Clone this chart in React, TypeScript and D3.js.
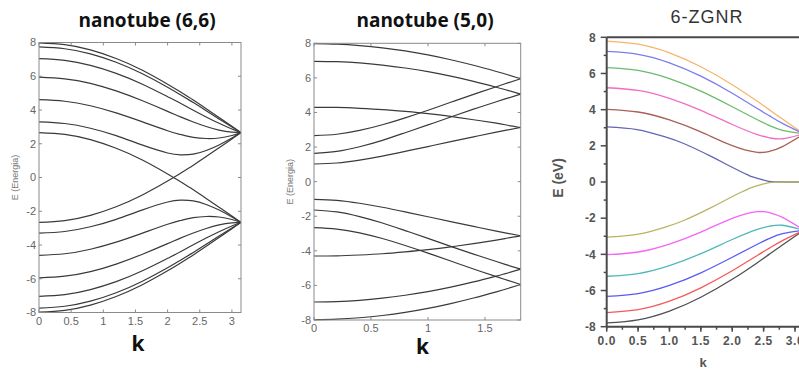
import React from 'react';
import * as d3 from 'd3';

// ---------- Panel 1: armchair nanotube (6,6) ----------
const K_CNT66 = [0, 0.4, 0.8, 1.2, 1.6, 2.0, 2.2, 2.4, 2.6, 2.8, 3.0, 3.1416];
const CNT66_UPPER = [
  [7.98, 7.87, 7.56, 7.05, 6.37, 5.53, 5.07, 4.59, 4.08, 3.56, 3.04, 2.66],
  [7.74, 7.63, 7.33, 6.83, 6.16, 5.35, 4.90, 4.44, 3.96, 3.47, 2.99, 2.66],
  [7.04, 6.94, 6.64, 6.17, 5.54, 4.79, 4.40, 3.99, 3.59, 3.21, 2.87, 2.66],
  [5.95, 5.85, 5.58, 5.13, 4.56, 3.92, 3.59, 3.29, 3.02, 2.81, 2.69, 2.66],
  [4.61, 4.52, 4.25, 3.83, 3.31, 2.77, 2.55, 2.38, 2.31, 2.34, 2.49, 2.66],
  [3.30, 3.20, 2.92, 2.48, 1.93, 1.45, 1.34, 1.38, 1.60, 1.93, 2.34, 2.66],
  [2.66, 2.55, 2.24, 1.73, 1.05, 0.21, -0.25, -0.73, -1.24, -1.76, -2.28, -2.66],
];
const CNT66_LOWER = [
  [-7.98, -7.87, -7.56, -7.05, -6.37, -5.53, -5.07, -4.59, -4.08, -3.56, -3.04, -2.66],
  [-7.74, -7.63, -7.33, -6.83, -6.16, -5.35, -4.90, -4.44, -3.96, -3.47, -2.99, -2.66],
  [-7.04, -6.94, -6.64, -6.17, -5.54, -4.79, -4.40, -3.99, -3.59, -3.21, -2.87, -2.66],
  [-5.95, -5.85, -5.58, -5.13, -4.56, -3.92, -3.59, -3.29, -3.02, -2.81, -2.69, -2.66],
  [-4.61, -4.52, -4.25, -3.83, -3.31, -2.77, -2.55, -2.38, -2.31, -2.34, -2.49, -2.66],
  [-3.30, -3.20, -2.92, -2.48, -1.93, -1.45, -1.34, -1.38, -1.60, -1.93, -2.34, -2.66],
  [-2.66, -2.55, -2.24, -1.73, -1.05, -0.21, 0.25, 0.73, 1.24, 1.76, 2.28, 2.66],
];
const CNT66_XTICKS = [0, 0.5, 1, 1.5, 2, 2.5, 3];

// ---------- Panel 2: zigzag nanotube (5,0) ----------
const K_CNT50 = [0, 0.2, 0.4, 0.6, 0.8, 1.0, 1.2, 1.4, 1.6, 1.7, 1.8138];
const CNT50_UPPER = [
  [7.98, 7.95, 7.87, 7.74, 7.56, 7.33, 7.05, 6.73, 6.37, 6.18, 5.95],
  [6.96, 6.94, 6.87, 6.74, 6.57, 6.36, 6.10, 5.80, 5.46, 5.28, 5.06],
  [4.30, 4.29, 4.24, 4.17, 4.06, 3.93, 3.77, 3.58, 3.38, 3.26, 3.13],
  [1.02, 1.08, 1.25, 1.48, 1.75, 2.03, 2.31, 2.59, 2.86, 2.99, 3.13],
  [1.64, 1.75, 2.02, 2.39, 2.83, 3.28, 3.74, 4.19, 4.62, 4.83, 5.06],
  [2.66, 2.74, 2.96, 3.29, 3.69, 4.13, 4.59, 5.05, 5.49, 5.71, 5.95],
];
const CNT50_LOWER = [
  [-7.98, -7.95, -7.87, -7.74, -7.56, -7.33, -7.05, -6.73, -6.37, -6.18, -5.95],
  [-6.96, -6.94, -6.87, -6.74, -6.57, -6.36, -6.10, -5.80, -5.46, -5.28, -5.06],
  [-4.30, -4.29, -4.24, -4.17, -4.06, -3.93, -3.77, -3.58, -3.38, -3.26, -3.13],
  [-1.02, -1.08, -1.25, -1.48, -1.75, -2.03, -2.31, -2.59, -2.86, -2.99, -3.13],
  [-1.64, -1.75, -2.02, -2.39, -2.83, -3.28, -3.74, -4.19, -4.62, -4.83, -5.06],
  [-2.66, -2.74, -2.96, -3.29, -3.69, -4.13, -4.59, -5.05, -5.49, -5.71, -5.95],
];
const CNT50_XTICKS = [0, 0.5, 1, 1.5];

// ---------- Panel 3: 6-ZGNR ----------
const K_ZGNR = [0, 0.5, 1.0, 1.5, 2.0, 2.4, 2.6, 2.8, 3.1416];
const ZGNR_UPPER = [
  [7.79, 7.62, 7.14, 6.37, 5.38, 4.46, 3.97, 3.48, 2.66],
  [7.22, 7.06, 6.59, 5.85, 4.91, 4.06, 3.64, 3.24, 2.66],
  [6.32, 6.17, 5.72, 5.02, 4.16, 3.44, 3.11, 2.86, 2.66],
  [5.21, 5.06, 4.62, 3.96, 3.18, 2.62, 2.44, 2.39, 2.66],
  [4.02, 3.87, 3.43, 2.77, 2.01, 1.64, 1.70, 1.96, 2.66],
];
const ZGNR_LOWER = [
  [-7.79, -7.62, -7.14, -6.37, -5.38, -4.46, -3.97, -3.48, -2.66],
  [-7.22, -7.06, -6.59, -5.85, -4.91, -4.06, -3.64, -3.24, -2.66],
  [-6.32, -6.17, -5.72, -5.02, -4.16, -3.44, -3.11, -2.86, -2.66],
  [-5.21, -5.06, -4.62, -3.96, -3.18, -2.62, -2.44, -2.39, -2.66],
  [-4.02, -3.87, -3.43, -2.77, -2.01, -1.64, -1.70, -1.96, -2.66],
];
const K_ZGNR_EDGE = [0, 0.484, 0.921, 1.227, 1.655, 1.943, 2.157, 2.256, 2.326, 2.461, 2.586, 2.688, 2.9, 3.1416];
const ZGNR_EDGE_UP = [3.05, 2.90, 2.51, 2.13, 1.43, 0.91, 0.54, 0.38, 0.28, 0.14, 0.04, 0.01, 0, 0];
const ZGNR_EDGE_DOWN = [-3.05, -2.90, -2.51, -2.13, -1.43, -0.91, -0.54, -0.38, -0.28, -0.14, -0.04, -0.01, 0, 0];
const ZGNR_UPPER_COLORS = ['#f7b46e', '#7c7cee', '#6cbb6c', '#f46cc4', '#a86058'];
const ZGNR_LOWER_COLORS = ['#505050', '#f45a5a', '#5a5af4', '#50b8b8', '#f664f6'];
const ZGNR_EDGE_UP_COLOR = '#6464b4';
const ZGNR_EDGE_DOWN_COLOR = '#b8b464';
const ZGNR_XTICKS = [0, 0.5, 1.0, 1.5, 2.0, 2.5, 3.0];

const E_TICKS = [-8, -6, -4, -2, 0, 2, 4, 6, 8];
const E_MINOR = [-7, -5, -3, -1, 1, 3, 5, 7];

type Series = { k: number[]; e: number[]; color: string };

function zip(k: number[], e: number[]): [number, number][] {
  return k.map((v, i) => [v, e[i]]);
}

function MatlabPanel(props: {
  id: string;
  left: number; right: number; top: number; bottom: number;
  kMax: number; xticks: number[]; series: Series[];
  title: string; titleX: number; titleY: number;
  kX: number; kY: number; yLabelX: number;
}) {
  const { id, left, right, top, bottom, kMax, xticks, series } = props;
  const x = d3.scaleLinear().domain([0, kMax]).range([left, right]);
  const y = d3.scaleLinear().domain([-8, 8]).range([bottom, top]);
  const line = d3.line<[number, number]>().x(d => x(d[0])).y(d => y(d[1])).curve(d3.curveNatural);
  const frame = '#8a8a8a';
  const tl = 3;
  return (
    <g>
      <defs>
        <clipPath id={id}>
          <rect x={left} y={top - 1} width={right - left} height={bottom - top + 2} />
        </clipPath>
      </defs>
      <g clipPath={`url(#${id})`}>
        {series.map((s, i) => (
          <path key={i} d={line(zip(s.k, s.e)) || ''} fill="none" stroke={s.color} strokeWidth={1.2} />
        ))}
      </g>
      <rect x={left} y={top} width={right - left} height={bottom - top} fill="none" stroke={frame} strokeWidth={1} />
      {E_TICKS.map(t => (
        <g key={'y' + t}>
          <line x1={left} x2={left + tl} y1={y(t)} y2={y(t)} stroke={frame} />
          <line x1={right} x2={right - tl} y1={y(t)} y2={y(t)} stroke={frame} />
          <text x={left - 3} y={y(t)} dy="0.35em" textAnchor="end" fontSize={11}
            fontFamily="'Liberation Sans', Arial, sans-serif" fill="#666">{t}</text>
        </g>
      ))}
      {xticks.map(t => (
        <g key={'x' + t}>
          <line x1={x(t)} x2={x(t)} y1={bottom} y2={bottom - tl} stroke={frame} />
          <line x1={x(t)} x2={x(t)} y1={top} y2={top + tl} stroke={frame} />
          <text x={x(t)} y={bottom + 12} textAnchor="middle" fontSize={11}
            fontFamily="'Liberation Sans', Arial, sans-serif" fill="#666">{t}</text>
        </g>
      ))}
      <text x={props.titleX} y={props.titleY} textAnchor="middle" fontSize={19} fontWeight="bold"
        fontFamily="'Open Sans', sans-serif" fill="#111">{props.title}</text>
      <text x={props.kX} y={props.kY} textAnchor="middle" fontSize={21} fontWeight="bold"
        fontFamily="'Open Sans', sans-serif" fill="#111">k</text>
      <text transform={`translate(${props.yLabelX},${(top + bottom) / 2}) rotate(-90)`} textAnchor="middle"
        fontSize={9} fontFamily="'Liberation Sans', Arial, sans-serif" fill="#777">E (Energia)</text>
    </g>
  );
}

function ZgnrPanel() {
  const left = 606.7, right = 803.9, top = 37.3, bottom = 326.7;
  const x = d3.scaleLinear().domain([0, 3.1416]).range([left, right]);
  const y = d3.scaleLinear().domain([-8, 8]).range([bottom, top]);
  const line = d3.line<[number, number]>().x(d => x(d[0])).y(d => y(d[1])).curve(d3.curveNatural);
  const axis = '#4a4a4a';
  const font = "'Liberation Sans', Arial, sans-serif";
  const minorX = d3.range(0, 3.2, 0.25);
  const series: Series[] = [
    ...ZGNR_UPPER.map((e, i) => ({ k: K_ZGNR, e, color: ZGNR_UPPER_COLORS[i] })),
    { k: K_ZGNR_EDGE, e: ZGNR_EDGE_UP, color: ZGNR_EDGE_UP_COLOR },
    { k: K_ZGNR_EDGE, e: ZGNR_EDGE_DOWN, color: ZGNR_EDGE_DOWN_COLOR },
    ...ZGNR_LOWER.map((e, i) => ({ k: K_ZGNR, e, color: ZGNR_LOWER_COLORS[i] })),
  ];
  return (
    <g>
      <defs>
        <clipPath id="clip3">
          <rect x={left} y={top} width={right - left} height={bottom - top} />
        </clipPath>
      </defs>
      <g clipPath="url(#clip3)">
        {series.map((s, i) => (
          <path key={i} d={line(zip(s.k, s.e)) || ''} fill="none" stroke={s.color} strokeWidth={1.3} />
        ))}
      </g>
      <line x1={left} x2={right} y1={top} y2={top} stroke={axis} strokeWidth={2} />
      <line x1={left} x2={right} y1={bottom} y2={bottom} stroke={axis} strokeWidth={2} />
      <line x1={left} x2={left} y1={top} y2={bottom} stroke={axis} strokeWidth={2} />
      {E_TICKS.map(t => (
        <g key={'y' + t}>
          <line x1={left - 6} x2={left} y1={y(t)} y2={y(t)} stroke={axis} strokeWidth={1.5} />
          <text x={left - 11} y={y(t)} dy="0.35em" textAnchor="end" fontSize={12} fontWeight="bold"
            fontFamily={font} fill="#555">{t}</text>
        </g>
      ))}
      {E_MINOR.map(t => (
        <line key={'m' + t} x1={left - 3} x2={left} y1={y(t)} y2={y(t)} stroke={axis} strokeWidth={1.5} />
      ))}
      {minorX.map(t => (
        <line key={'mx' + t} x1={x(t)} x2={x(t)} y1={bottom} y2={bottom + 3} stroke={axis} strokeWidth={1.5} />
      ))}
      {ZGNR_XTICKS.map(t => (
        <g key={'x' + t}>
          <line x1={x(t)} x2={x(t)} y1={bottom} y2={bottom + 5} stroke={axis} strokeWidth={1.5} />
          <text x={x(t)} y={bottom + 18} textAnchor="middle" fontSize={12} fontWeight="bold"
            letterSpacing={0.6} fontFamily={font} fill="#555">{t.toFixed(1)}</text>
        </g>
      ))}
      <text x={707} y={23} textAnchor="middle" fontSize={18} letterSpacing={1}
        fontFamily={font} fill="#333">6-ZGNR</text>
      <text transform={`translate(563,${(top + bottom) / 2 - 4}) rotate(-90)`} textAnchor="middle"
        fontSize={14} fontWeight="bold" fontFamily={font} fill="#555">E (eV)</text>
      <text x={703} y={367} textAnchor="middle" fontSize={13} fontWeight="bold" fontFamily={font} fill="#555">k</text>
    </g>
  );
}

export default function App() {
  const s1: Series[] = [
    ...CNT66_UPPER.map(e => ({ k: K_CNT66, e, color: '#3a3a3a' })),
    ...CNT66_LOWER.map(e => ({ k: K_CNT66, e, color: '#3a3a3a' })),
  ];
  const s2: Series[] = [
    ...CNT50_UPPER.map(e => ({ k: K_CNT50, e, color: '#3a3a3a' })),
    ...CNT50_LOWER.map(e => ({ k: K_CNT50, e, color: '#3a3a3a' })),
  ];
  return (
    <svg width={799} height={369} style={{ position: 'absolute', left: 0, top: 0, background: '#fff' }}>
      <rect x={0} y={0} width={799} height={369} fill="#fff" />
      <MatlabPanel id="clip1" left={39} right={241} top={42.5} bottom={312.5} kMax={3.1416}
        xticks={CNT66_XTICKS} series={s1} title="nanotube (6,6)" titleX={147} titleY={27}
        kX={138} kY={351} yLabelX={18} />
      <MatlabPanel id="clip2" left={314} right={520.7} top={43.3} bottom={320} kMax={1.8138}
        xticks={CNT50_XTICKS} series={s2} title="nanotube (5,0)" titleX={425} titleY={27}
        kX={422.5} kY={354} yLabelX={293} />
      <ZgnrPanel />
    </svg>
  );
}
